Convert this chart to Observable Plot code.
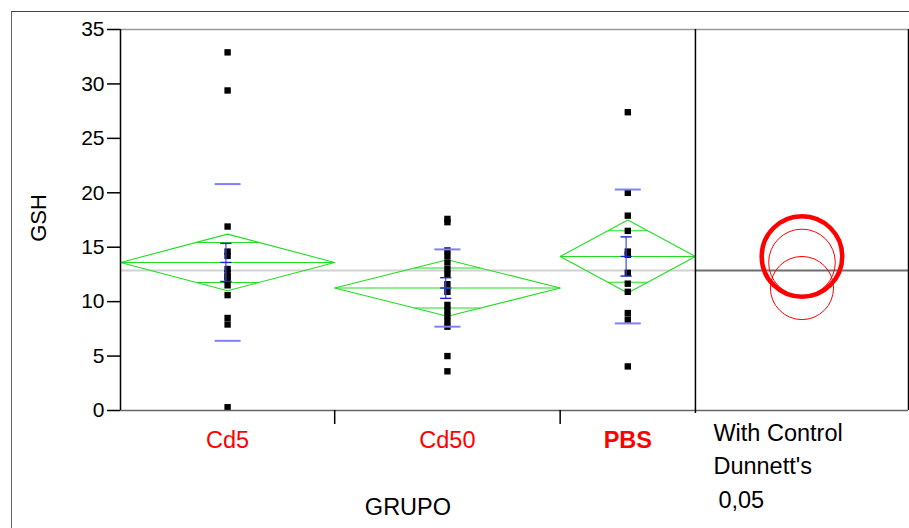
<!DOCTYPE html>
<html><head><meta charset="utf-8">
<script src="https://cdn.jsdelivr.net/npm/d3@7"></script>
<script src="https://cdn.jsdelivr.net/npm/@observablehq/plot@0.6"></script>
<style>
html,body{margin:0;padding:0;background:#fff;}
#wrap{position:relative;width:909px;height:528px;overflow:hidden;font-family:"Liberation Sans",Arial,sans-serif;}
#border{position:absolute;left:11px;top:11px;width:1000px;height:1000px;border-top:1.5px solid #444;border-left:1.5px solid #666;}
#chart{position:absolute;left:0;top:0;}
</style></head><body>
<div id="wrap"><div id="border"></div><div id="chart"></div></div>
<script>
// ---- data ----
const groups = ["Cd5", "Cd50", "PBS"];
const controlGroup = "PBS";
const groupN = [19, 20, 12];
const cd5Values = [32.9, 29.4, 16.9, 14.6, 14.2, 13.0, 12.6, 12.3, 12.0, 11.5, 10.6, 8.5, 7.9, 0.3];
const cd50Values = [17.6, 17.3, 14.7, 14.2, 13.6, 13.0, 12.5, 11.6, 10.9, 9.7, 9.2, 8.7, 8.2, 7.7, 5.0, 3.6];
const pbsValues = [27.4, 20.0, 17.9, 16.5, 14.6, 14.3, 12.65, 11.65, 10.9, 8.95, 8.35, 4.05];
const groupMeans = [13.6, 11.25, 14.15];
const ciHalf = [2.6, 2.6, 3.35];
const stdDev = [7.2, 3.55, 6.15];
const stdErr = [1.75, 0.95, 1.8];
const circleRadius = [3.06, 2.9, 3.7];
const grandMean = 12.85;
const yTicks = [0, 5, 10, 15, 20, 25, 30, 35];
const panelText = ["With Control", "Dunnett's", "0,05"];
const xLabel = "GRUPO";
const yLabel = "GSH";

// ---- layout ----
const W = 909, H = 528, mL = 120, mR = 1, mT = 29, mB = 118;
const panelUnits = 18.9;
const yMax = 35;
const green = "#22dd22";
const labelSize = 23.5;
const values = [cd5Values, cd50Values, pbsValues];
const total = d3.sum(groupN);
const starts = d3.cumsum([0, ...groupN.slice(0, -1)]);

const summary = groups.map((g, i) => ({
  group: g, start: starts[i], end: starts[i] + groupN[i], mid: starts[i] + groupN[i] / 2,
  half: groupN[i] / 2, mean: groupMeans[i], ci: ciHalf[i], sd: stdDev[i], se: stdErr[i], r: circleRadius[i]
}));
const points = summary.flatMap((s, i) => values[i].map(v => ({group: s.group, x: s.mid, y: v})));
const diamondPts = summary.flatMap(s => [
  {group: s.group, x: s.start, y: s.mean}, {group: s.group, x: s.mid, y: s.mean + s.ci},
  {group: s.group, x: s.end, y: s.mean}, {group: s.group, x: s.mid, y: s.mean - s.ci},
  {group: s.group, x: s.start, y: s.mean}
]);
const k = 1 - Math.SQRT1_2;
const overlap = summary.flatMap(s => [1, -1].map(sg => ({
  x1: s.mid - k * s.half, x2: s.mid + k * s.half, y: s.mean + sg * s.ci * Math.SQRT1_2
})));
const sdHalf = 1.15, capHalf = 0.5, seOffset = -0.15;
const sdLines = summary.flatMap(s => [1, -1].map(sg => ({x1: s.mid - sdHalf, x2: s.mid + sdHalf, y: s.mean + sg * s.sd})));
const seCaps = summary.flatMap(s => [1, 0, -1].map(sg => ({x1: s.mid + seOffset - capHalf, x2: s.mid + seOffset + capHalf, y: s.mean + sg * s.se})));
const circleX = total + panelUnits / 2;

const plot = Plot.plot({
  width: W, height: H, marginLeft: mL, marginRight: mR, marginTop: mT, marginBottom: mB,
  style: {fontFamily: "'Liberation Sans', Arial, sans-serif", fontSize: "21px", color: "black", background: "transparent"},
  x: {domain: [0, total + panelUnits]},
  y: {domain: [0, yMax]},
  r: {type: "linear", domain: [0, yMax], range: [0, H - mT - mB]},
  marks: [
    Plot.ruleY([grandMean], {x1: 0, x2: total, stroke: "#d2d2d2", strokeWidth: 2}),
    Plot.ruleY([grandMean], {x1: total, x2: total + panelUnits, stroke: "#6e6e6e", strokeWidth: 2}),
    Plot.line(diamondPts, {x: "x", y: "y", z: "group", stroke: green, strokeWidth: 1.1}),
    Plot.link(summary, {x1: "start", x2: "end", y1: "mean", y2: "mean", stroke: green, strokeWidth: 1.1}),
    Plot.link(overlap, {x1: "x1", x2: "x2", y1: "y", y2: "y", stroke: green, strokeWidth: 1.1}),
    Plot.dot(points, {x: "x", y: "y", symbol: "square", r: 3.6, fill: "black", stroke: null}),
    Plot.link(sdLines, {x1: "x1", x2: "x2", y1: "y", y2: "y", stroke: "#7f7fff", strokeWidth: 2}),
    Plot.link(summary, {x1: d => d.mid + seOffset, x2: d => d.mid + seOffset, y1: d => d.mean - d.se, y2: d => d.mean + d.se, stroke: "#4444ee", strokeWidth: 1.2}),
    Plot.link(seCaps, {x1: "x1", x2: "x2", y1: "y", y2: "y", stroke: "#2222cc", strokeWidth: 1.4}),
    // comparison circles
    Plot.dot(summary.filter(d => d.group !== controlGroup), {x: () => circleX, y: "mean", r: "r", stroke: "#ff0000", strokeWidth: 1, fill: "none"}),
    Plot.dot(summary.filter(d => d.group === controlGroup), {x: () => circleX, y: "mean", r: "r", stroke: "#ff0000", strokeWidth: 4.5, fill: "none"}),
    // frame
    Plot.ruleY([yMax], {stroke: "#999", strokeWidth: 1.5}),
    Plot.ruleY([0], {stroke: "#666", strokeWidth: 1.5}),
    Plot.ruleX([0], {stroke: "black", strokeWidth: 1.5}),
    Plot.ruleX([total + panelUnits], {stroke: "black", strokeWidth: 1.5}),
    Plot.ruleX([total], {stroke: "black", strokeWidth: 1.5, insetBottom: -3}),
    // axes
    Plot.axisY({ticks: yTicks, tickSize: 13, tickPadding: 3, label: null, fontSize: 21, strokeWidth: 1.5}),
    Plot.axisX({ticks: starts.slice(1), tickSize: 14, tickFormat: () => "", label: null, strokeWidth: 1.5}),
    Plot.text(summary.filter(d => d.group !== controlGroup), {x: "mid", text: "group", frameAnchor: "bottom", dy: 37, fill: "#ff0000", fontSize: labelSize}),
    Plot.text(summary.filter(d => d.group === controlGroup), {x: "mid", text: "group", frameAnchor: "bottom", dy: 37, fill: "#ff0000", fontSize: labelSize, fontWeight: "bold"}),
    Plot.text([xLabel], {x: total / 2, frameAnchor: "bottom", dy: 104, fontSize: labelSize}),
    Plot.text([yLabel], {y: yMax / 2 - 2, frameAnchor: "left", dx: -82, rotate: -90, fontSize: 22}),
    Plot.text([panelText[0]], {x: total, frameAnchor: "bottom", dx: 18, dy: 30, textAnchor: "start", fontSize: labelSize}),
    Plot.text([panelText[1]], {x: total, frameAnchor: "bottom", dx: 18, dy: 63, textAnchor: "start", fontSize: labelSize}),
    Plot.text([panelText[2]], {x: total, frameAnchor: "bottom", dx: 23, dy: 97, textAnchor: "start", fontSize: labelSize})
  ]
});
document.getElementById("chart").appendChild(plot);
</script>
</body></html>
